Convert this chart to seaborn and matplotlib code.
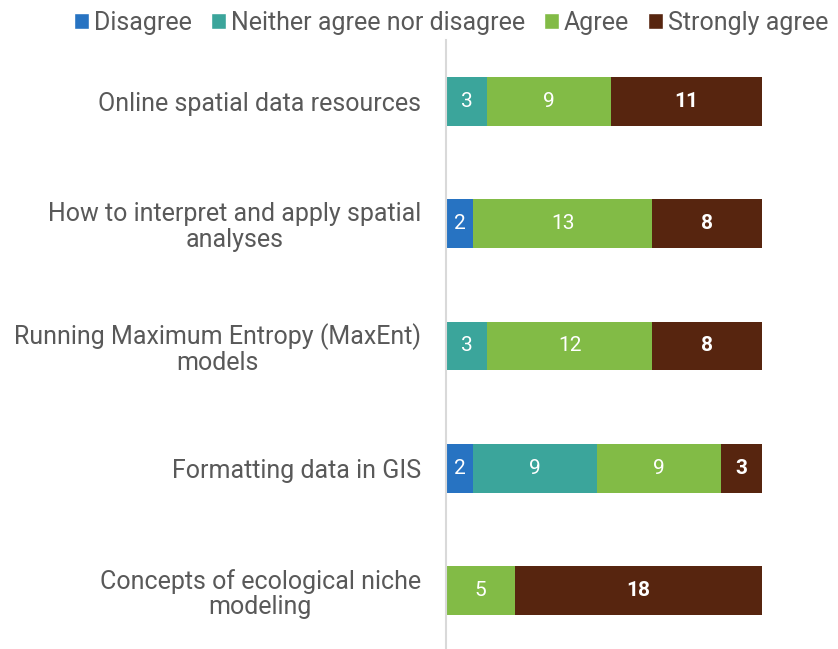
import seaborn as sns
import matplotlib.pyplot as plt
import pandas as pd
from matplotlib.patches import Patch

topics = ['Online spatial data resources',
          'How to interpret and apply spatial\nanalyses',
          'Running Maximum Entropy (MaxEnt)\nmodels',
          'Formatting data in GIS',
          'Concepts of ecological niche\nmodeling']
levels = ['Disagree', 'Neither agree nor disagree', 'Agree', 'Strongly agree']
disagree = [0, 2, 0, 2, 0]
neither = [3, 0, 3, 9, 0]
agree = [9, 13, 12, 9, 5]
strongly = [11, 8, 8, 3, 18]
colors = ['#2773C2', '#3BA59B', '#82BB46', '#57250F']

sns.set_style('white')
plt.rcParams['font.family'] = ['Roboto', 'DejaVu Sans']

df = pd.DataFrame({'topic': topics, 'Disagree': disagree,
                   'Neither agree nor disagree': neither,
                   'Agree': agree, 'Strongly agree': strongly})
cum = df[levels].cumsum(axis=1)

fig = plt.figure(figsize=(8.38, 6.49), dpi=100)
ax = fig.add_axes([446 / 838, -3 / 649, 316 / 838, 612 / 649])

# draw cumulative totals back to front so they look stacked
for lev, col in reversed(list(zip(levels, colors))):
    sns.barplot(x=cum[lev], y=df['topic'], color=col, orient='h',
                width=0.4, ax=ax, saturation=1, linewidth=0)

for i in range(len(topics)):
    start = 0
    for j, lev in enumerate(levels):
        v = df[lev][i]
        if v > 0:
            ax.text(start + v / 2, i, str(v), ha='center', va='center',
                    color='white', fontsize=15,
                    fontweight='bold' if j == 3 else 'normal')
        start += v

ax.set_xlim(0, 23)
ax.set_ylim(4.5, -0.5)
ax.set_xlabel('')
ax.set_ylabel('')
ax.set_xticks([])
ax.tick_params(axis='y', length=0, labelsize=18, labelcolor='#595959', pad=18)
for lbl in ax.get_yticklabels():
    lbl.set_multialignment('center')
    lbl.set_linespacing(1.08)
for s in ['top', 'right', 'bottom']:
    ax.spines[s].set_visible(False)
ax.spines['left'].set_color('#D9D9D9')
ax.spines['left'].set_linewidth(1.5)

handles = [Patch(facecolor=c, label=l) for l, c in zip(levels, colors)]
fig.legend(handles=handles, loc='upper center', bbox_to_anchor=(451 / 838, 1.018),
           ncol=4, frameon=False, handlelength=0.6, handleheight=0.6,
           handletextpad=0.2, columnspacing=0.75, fontsize=18,
           labelcolor='#595959')

fig.savefig('out.png', dpi=100)
